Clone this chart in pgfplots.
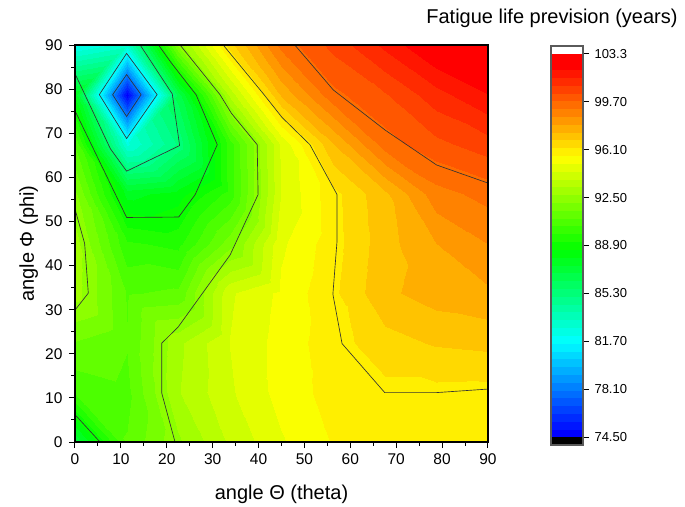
\documentclass[border=0pt]{standalone}
\usepackage{fontspec}
\setmainfont{Liberation Sans}
\usepackage{pgfplots}
\pgfplotsset{compat=1.18}
\definecolor{cline}{HTML}{333333}
\definecolor{cbframe}{HTML}{5A5A5A}
\pgfplotsset{
  colormap={bands}{
    rgb255=(0,0,255) rgb255=(0,22,255) rgb255=(0,43,255) rgb255=(0,65,255)
    rgb255=(0,87,255) rgb255=(0,109,255) rgb255=(0,130,255) rgb255=(0,152,255)
    rgb255=(0,174,255) rgb255=(0,195,255) rgb255=(0,217,255) rgb255=(0,239,255)
    rgb255=(0,255,250) rgb255=(0,255,228) rgb255=(0,255,206) rgb255=(0,255,184)
    rgb255=(0,255,163) rgb255=(0,255,141) rgb255=(0,255,119) rgb255=(0,255,98)
    rgb255=(0,255,76) rgb255=(0,255,54) rgb255=(0,255,33) rgb255=(0,255,11)
    rgb255=(11,255,0) rgb255=(33,255,0) rgb255=(54,255,0) rgb255=(76,255,0)
    rgb255=(98,255,0) rgb255=(119,255,0) rgb255=(141,255,0) rgb255=(163,255,0)
    rgb255=(184,255,0) rgb255=(206,255,0) rgb255=(228,255,0) rgb255=(250,255,0)
    rgb255=(255,239,0) rgb255=(255,217,0) rgb255=(255,195,0) rgb255=(255,174,0)
    rgb255=(255,152,0) rgb255=(255,130,0) rgb255=(255,109,0) rgb255=(255,87,0)
    rgb255=(255,65,0) rgb255=(255,43,0) rgb255=(255,22,0) rgb255=(255,0,0)
    rgb255=(255,0,0)
  }
}
\begin{document}
\begin{tikzpicture}[x=1pt,y=1pt]
\path[use as bounding box] (-75,-64) rectangle (610,442);
\begin{axis}[
  at={(0pt,0pt)}, anchor=south west,
  width=413pt, height=397pt, scale only axis,
  xmin=0, xmax=90, ymin=0, ymax=90,
  enlargelimits=false,
  axis on top,
  colormap name=bands, colormap access=piecewise constant,
  point meta min=74.5, point meta max=103.3,
  xtick={0,10,...,90}, ytick={0,10,...,90},
  minor tick num=1,
  tick align=outside, tick pos=left,
  major tick length=6pt, minor tick length=3.5pt,
  every tick/.style={black, line width=1pt},
  axis line style={black, line width=1.2pt},
  /pgf/number format/assume math mode=true,
  ticklabel style={font=\fontsize{15.5}{18}\selectfont},
  xticklabel style={yshift=-2.5pt},
  yticklabel style={xshift=-3pt},
  xlabel={angle Θ (theta)}, ylabel={angle Φ (phi)},
  label style={font=\fontsize{20}{24}\selectfont},
  xlabel style={at={(axis description cs:0.5,-0.1436)}, anchor=base},
  ylabel style={at={(axis description cs:-0.0993,0.5)}, anchor=base},
]
\addplot[surf, shader=interp, mesh/cols=9, point meta=explicit] table[x=t, y=p, meta=z] {
t p z
0 0 86.9
11.25 0 91.0
22.5 0 92.6
33.75 0 94.0
45 0 95.0
56.25 0 95.7
67.5 0 95.85
78.75 0 95.9
90 0 95.9

0 11.25 90.5
11.25 11.25 90.8
22.5 11.25 93.26
33.75 11.25 94.4
45 11.25 95.3
56.25 11.25 95.9
67.5 11.25 96.08
78.75 11.25 96.08
90 11.25 96.05

0 22.5 91.5
11.25 22.5 91.0
22.5 22.5 93.17
33.75 22.5 94.5
45 22.5 95.3
56.25 22.5 96.0
67.5 22.5 96.6
78.75 22.5 96.9
90 22.5 97.0

0 33.75 93.0
11.25 33.75 90.9
22.5 33.75 91.08
33.75 33.75 94.4
45 33.75 95.2
56.25 33.75 96.12
67.5 33.75 97.3
78.75 33.75 97.7
90 33.75 97.9

0 45 93.0
11.25 45 89.9
22.5 45 89.6
33.75 45 91.9
45 45 94.96
56.25 45 96.0
67.5 45 97.2
78.75 45 98.0
90 45 98.6

0 56.25 92.27
11.25 56.25 87.8
22.5 56.25 88.3
33.75 56.25 90.06
45 56.25 94.5
56.25 56.25 96.05
67.5 56.25 97.3
78.75 56.25 98.95
90 56.25 99.4

0 67.5 90.9
11.25 67.5 82.6
22.5 67.5 85.2
33.75 67.5 90.1
45 67.5 94.6
56.25 67.5 97.4
67.5 67.5 99.5
78.75 67.5 100.2
90 67.5 100.7

0 78.75 87.9
11.25 78.75 74.75
22.5 78.75 86.5
33.75 78.75 93.5
45 78.75 97.5
56.25 78.75 99.6
67.5 78.75 100.3
78.75 78.75 101.3
90 78.75 102.1

0 90 82.0
11.25 90 83.1
22.5 90 92.3
33.75 90 96.6
45 90 99.4
56.25 90 100.55
67.5 90 101.7
78.75 90 102.85
90 90 103.2
};
% the four cells round the minimum, triangulated as in the reference (diamond)
\addplot[patch, patch type=triangle, shader=interp, point meta=explicit] coordinates {
(0,78.75) [87.9] (11.25,78.75) [74.75] (11.25,90) [83.1]
(0,78.75) [87.9] (11.25,90) [83.1] (0,90) [82.0]
(11.25,78.75) [74.75] (22.5,78.75) [86.5] (11.25,90) [83.1]
(22.5,78.75) [86.5] (22.5,90) [92.3] (11.25,90) [83.1]
(0,78.75) [87.9] (11.25,67.5) [82.6] (11.25,78.75) [74.75]
(0,78.75) [87.9] (0,67.5) [90.9] (11.25,67.5) [82.6]
(11.25,67.5) [82.6] (22.5,78.75) [86.5] (11.25,78.75) [74.75]
(11.25,67.5) [82.6] (22.5,67.5) [85.2] (22.5,78.75) [86.5]
};
% contour lines (78.1, 81.7, 85.3, 88.9, 92.5, 96.1, 99.7)
\addplot[cline, line width=0.65pt, no marks] coordinates {(8.2,78.75) (11.25,83.3) (14.4,78.75) (11.25,73.8) (8.2,78.75)};
\addplot[cline, line width=0.65pt, no marks] coordinates {(5.3,78.75) (11.25,88.1) (17.9,78.75) (11.25,68.8) (5.3,78.75)};
\addplot[cline, line width=0.65pt, no marks] coordinates {(0,83.5) (7.7,66.5) (11.25,61.4) (22.8,67.2) (21.2,78.9) (14.2,90)};
\addplot[cline, line width=0.65pt, no marks] coordinates {(0,75.1) (11.25,50.9) (22.6,51.0) (26.2,56.1) (31.0,67.4) (26.4,78.7) (20.8,86.2) (18.2,90)};
\addplot[cline, line width=0.65pt, no marks] coordinates {(22.9,90) (31.6,78.75) (34.1,74.5) (39.7,67.4) (39.9,56.1) (33.8,42.4) (22.5,26.1) (18.9,22.4) (18.9,11.1) (21.8,0)};
\addplot[cline, line width=0.65pt, no marks] coordinates {(0,52.8) (2.1,45.0) (2.9,33.75) (0,29.9)};
\addplot[cline, line width=0.65pt, no marks] coordinates {(0,6.2) (5.45,0)};
\addplot[cline, line width=0.65pt, no marks] coordinates {(32.3,90) (41.0,79.0) (45.1,73.6) (51.2,67.4) (57.1,56.1) (57.1,45.5) (56.2,33.5) (58.2,22.3) (67.5,11.2) (78.8,11.2) (90,12.0)};
\addplot[cline, line width=0.65pt, no marks] coordinates {(47.9,90) (56.3,79.8) (67.6,70.7) (78.8,62.8) (90,58.7)};
\end{axis}

\begin{axis}[
  at={(476pt,-3pt)}, anchor=south west,
  width=32pt, height=399pt, scale only axis,
  xmin=0, xmax=1, ymin=73.9, ymax=103.9,
  enlargelimits=false, axis on top,
  colormap name=bands, colormap access=piecewise constant,
  point meta min=74.5, point meta max=103.3,
  xtick=\empty,
  ytick={74.5,78.1,81.7,85.3,88.9,92.5,96.1,99.7,103.3},
  yticklabels={74.50,78.10,81.70,85.30,88.90,92.50,96.10,99.70,103.3},
  ytick pos=right, yticklabel pos=right,
  tick align=outside,
  major tick length=6pt,
  every tick/.style={black, line width=1pt},
  axis line style={cbframe, line width=1.2pt},
  yticklabel style={font=\fontsize{13}{15}\selectfont, xshift=2pt},
  title={Fatigue life prevision (years)},
  title style={at={(0.03,1)}, anchor=base, yshift=16pt, font=\fontsize{20}{24}\selectfont},
]
\addplot[surf, shader=interp, point meta=explicit, mesh/cols=2] coordinates {
(0,74.5) [74.5] (1,74.5) [74.5]

(0,103.3) [103.3] (1,103.3) [103.3]
};
\addplot[fill=black, draw=none] coordinates {(0,73.9) (1,73.9) (1,74.5) (0,74.5)} -- cycle;
\end{axis}
\end{tikzpicture}
\end{document}
